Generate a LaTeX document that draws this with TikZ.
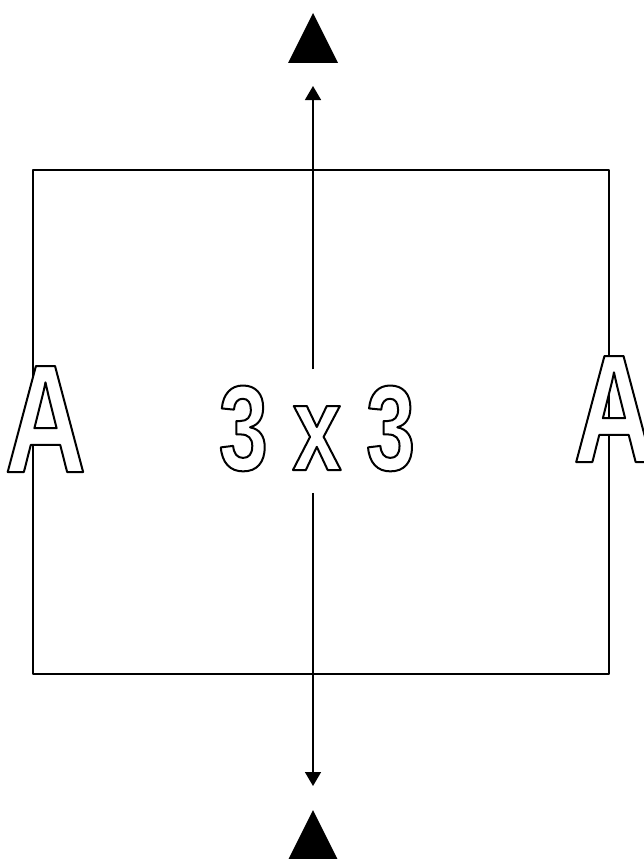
\documentclass[tikz,border=0pt]{standalone}
\usepackage{fontspec}
\setmainfont[FakeStretch=0.73]{Liberation Sans}
\usetikzlibrary{arrows.meta}
\newcommand{\hollow}[1]{{\color{white}\special{pdf:literal direct 2 Tr 0 G 2 w}#1\special{pdf:literal direct 0 Tr}}}
\begin{document}
\begin{tikzpicture}[x=1pt, y=-1pt, line width=1.5pt, line join=round, >={Triangle[length=14pt,width=16pt]}]
	\useasboundingbox (0,0) rectangle (644,859);
	\def \xl{33} % canh trai
	\def \xr{609}
	\draw (\xl,170) rectangle (\xr,674);
	\coordinate (up) at (313,86);
	\coordinate (down) at (313,786);
	\node[anchor=base, inner sep=0, text height=100pt, text depth=22pt] (mid) at (317,470) {\fontsize{121}{121}\selectfont\bfseries\hollow{3 x 3}};
	\draw[->] (mid.north -| up) -- (up);
	\draw[->] (mid.south -| down) -- (down);
	\node[anchor=base, inner sep=0] (aleft) at (45.5,472) {\fontsize{154}{154}\selectfont\bfseries\hollow{A}};
	\node[anchor=base, inner sep=0] (aright) at (614,462) {\fontsize{154}{154}\selectfont\bfseries\hollow{A}};
	\fill (313,13) -- (338,63) -- (288,63) -- cycle;
	\fill (313,810) -- (338,860) -- (288,860) -- cycle;
\end{tikzpicture}
\end{document}
